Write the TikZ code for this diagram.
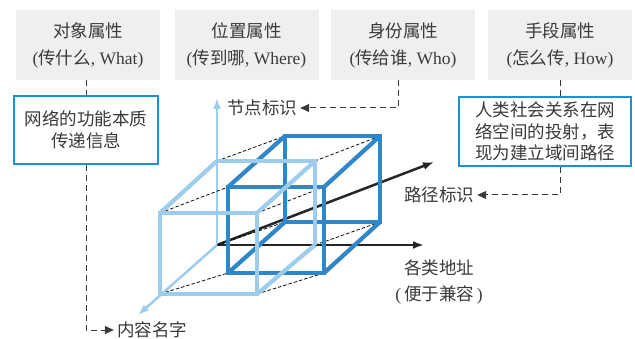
\documentclass[tikz,border=0pt]{standalone}
\usepackage{fontspec}
\setmainfont{Liberation Serif}
\newfontfamily\cjk{Noto Sans CJK SC}
\usetikzlibrary{arrows.meta}
\definecolor{lightc}{HTML}{9ECCED}
\definecolor{darkc}{HTML}{2F86C8}
\definecolor{boxblue}{HTML}{1C92D2}
\definecolor{grayb}{HTML}{EFEFEF}
\definecolor{txtc}{HTML}{3A3A3A}
\begin{document}
\begin{tikzpicture}[x=1pt,y=-1pt,
  lbl/.style={text=txtc, font=\fontsize{17.5}{21}\selectfont, inner sep=3pt},
  topbox/.style={fill=grayb, minimum width=144pt, minimum height=70pt, align=center, text=txtc, font=\fontsize{17.5}{27}\selectfont, inner sep=0pt},
  bluebox/.style={draw=boxblue, line width=2pt, fill=white, align=center, text=txtc, font=\fontsize{17.5}{21.5}\selectfont, inner sep=0pt},
  conn/.style={draw=txtc, line width=1pt, dash pattern=on 6pt off 4pt},
  connarrow/.style={conn, -{Triangle[length=9pt,width=8pt]}},
  cornerline/.style={draw=black, line width=0.75pt, dash pattern=on 3.5pt off 2pt},
  lightedge/.style={draw=lightc, line width=4.2pt, line join=miter},
  darkedge/.style={draw=darkc, line width=4.2pt, line join=miter},
  blackaxis/.style={draw=black!85, line width=2.5pt, -{Latex[length=11pt,width=8pt]}},
  lightaxis/.style={draw=lightc, line width=2.5pt, -{Latex[length=11pt,width=8pt]}},
]
\useasboundingbox (0,0) rectangle (635,339);

% top boxes
\node[topbox] (b1) at (88,45) {{\cjk 对象属性}\\({\cjk 传什么}, What)};
\node[topbox] (b2) at (246.5,45) {{\cjk 位置属性}\\({\cjk 传到哪}, Where)};
\node[topbox] (b3) at (403,45) {{\cjk 身份属性}\\({\cjk 传给谁}, Who)};
\node[topbox] (b4) at (560,45) {{\cjk 手段属性}\\({\cjk 怎么传}, How)};

% blue boxes
\node[bluebox, minimum width=144pt, minimum height=68pt] (w1) at (86,130) {{\cjk 网络的功能本质}\\{\cjk 传递信息}};
\node[bluebox, minimum width=172pt, minimum height=69pt] (w2) at (545,131.5) {{\cjk 人类社会关系在网}\\{\cjk 络空间的投射，表}\\{\cjk 现为建立域间路径}};

% labels
\node[lbl] (jd) at (262,108) {\cjk 节点标识};
\node[lbl] (lj) at (439,195) {\cjk 路径标识};
\node[lbl, align=center, font=\fontsize{17.5}{26}\selectfont] (dz) at (439,282) {{\cjk 各类地址}\\(\,{\cjk 便于兼容}\,)};
\node[lbl] (nr) at (152,330) {\cjk 内容名字};

% coordinates
\coordinate (O) at (217,245);
\coordinate (ytip) at (217,98);
\coordinate (ztip) at (138,315);
\coordinate (xtip) at (424,245);
\coordinate (ptip) at (434,162);

% connectors
\draw[conn] (b1.south -| w1.north) -- (w1.north);
\draw[connarrow] (w1.south) |- (nr.west);
\draw[connarrow] ([xshift=-5pt]b3.south) |- (jd.east);
\draw[conn] (b4.south) -- (b4.south |- w2.north);
\draw[connarrow] (w2.south -| b4.south) |- (lj.east);

% axes
\draw[blackaxis] (O) -- (xtip);
\draw[blackaxis] (O) -- (ptip);
\draw[lightaxis] (O) -- (ytip);
\draw[lightaxis] (O) -- (ztip);

% light cube corners
\coordinate (LFTL) at (160,213); \coordinate (LFTR) at (257,213);
\coordinate (LFBR) at (257,294); \coordinate (LFBL) at (160,294);
\coordinate (LBTL) at (217,161); \coordinate (LBTR) at (315,161);
\coordinate (LBBR) at (315,245); \coordinate (LBBL) at (217,245);
% dark cube corners
\coordinate (DFTL) at (228,187); \coordinate (DFTR) at (324,187);
\coordinate (DFBR) at (324,273); \coordinate (DFBL) at (228,273);
\coordinate (DBTL) at (285,136); \coordinate (DBTR) at (380,136);
\coordinate (DBBR) at (380,222); \coordinate (DBBL) at (285,222);

% dashed corner connections
\foreach \c in {FTL,FTR,FBR,FBL,BTL,BTR,BBR,BBL}
  \draw[cornerline] (L\c) -- (D\c);

% dark cube
\draw[darkedge] (DBTL) -- (DBTR) -- (DBBR) -- (DBBL) -- cycle;
\draw[darkedge] (DFTL) -- (DBTL);
\draw[darkedge] (DFTR) -- (DBTR);
\draw[darkedge] (DFBR) -- (DBBR);
\draw[darkedge] (DFBL) -- (DBBL);
\draw[darkedge] (DFTL) -- (DFTR) -- (DFBR) -- (DFBL) -- cycle;

% light cube
\draw[lightedge] (LBTL) -- (LBTR) -- (LBBR);
\draw[lightedge] (LFTL) -- (LBTL);
\draw[lightedge] (LFTR) -- (LBTR);
\draw[lightedge] (LFBR) -- (LBBR);
\draw[lightedge] (LFTL) -- (LFTR) -- (LFBR) -- (LFBL) -- cycle;
\end{tikzpicture}
\end{document}
